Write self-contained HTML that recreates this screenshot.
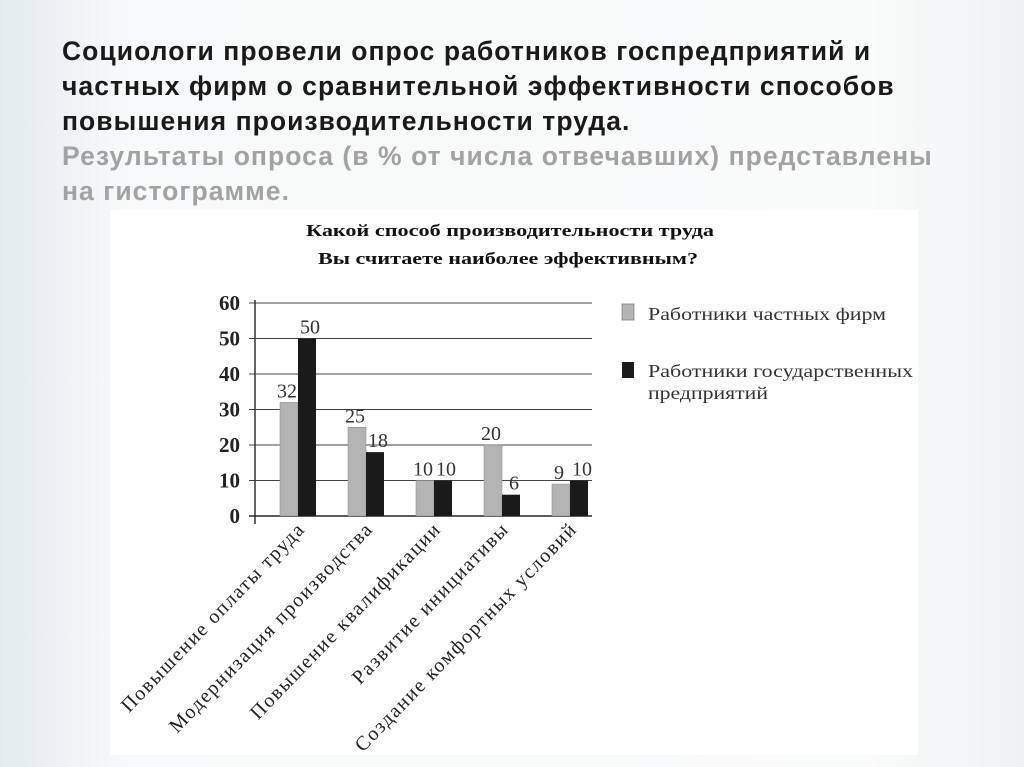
<!DOCTYPE html>
<html><head><meta charset="utf-8"><style>
body{margin:0;width:1024px;height:767px;overflow:hidden;background:linear-gradient(90deg,#e4ebee 0%,#f7f9fa 12%,#fafbfb 85%,#eef2f3 100%);font-family:"Liberation Sans",sans-serif;position:relative}
.h{position:absolute;left:62px;font-weight:bold;font-size:26.5px;letter-spacing:1.05px;line-height:35px;color:#1a1a1a;white-space:nowrap}
.g{color:#a2a2a2}
#panel{position:absolute;left:110px;top:210px;width:808px;height:545px;background:#fff}
</style></head><body>
<div class="h" style="top:34px">Социологи провели опрос работников госпредприятий и<br>частных фирм о сравнительной эффективности способов<br>повышения производительности труда.<br><span class="g">Результаты опроса (в % от числа отвечавших) представлены<br>на гистограмме.</span></div>
<div id="panel"></div>
<svg id="chart" width="1024" height="767" style="position:absolute;left:0;top:0"></svg>
<script>
const categories=["Повышение оплаты труда","Модернизация производства","Повышение квалификации","Развитие инициативы","Создание комфортных условий"];
const privateVals=[32,25,10,20,9];
const stateVals=[50,18,10,6,10];
const ticks=[0,10,20,30,40,50,60];
const ns="http://www.w3.org/2000/svg";
const svg=document.getElementById('chart');
function mk(t,a,txt){const e=document.createElementNS(ns,t);for(const k in a)e.setAttribute(k,a[k]);if(txt!==undefined)e.textContent=txt;svg.appendChild(e);return e;}
const y0=516,y60=303,xL=255,xR=592;
const y=v=>y0-(y0-y60)*v/60;
const x0=298,step=68;
const xc=i=>x0+step*i;
const bw=18;
const serif='"Liberation Serif",serif';
let e;
e=mk('text',{x:510,y:236,'text-anchor':'middle','font-family':serif,'font-weight':'bold','font-size':17,fill:'#111',textLength:408,lengthAdjust:'spacingAndGlyphs'},'Какой способ производительности труда');

e=mk('text',{x:508,y:264,'text-anchor':'middle','font-family':serif,'font-weight':'bold','font-size':17,fill:'#111',textLength:380,lengthAdjust:'spacingAndGlyphs'},'Вы считаете наиболее эффективным?');

ticks.forEach(t=>{
 e=mk('line',{x1:xL-6,x2:xR,y1:y(t),y2:y(t),stroke:'#444','stroke-width':t===0?1.8:1});
 
 e=mk('text',{x:240,y:y(t)+7,'text-anchor':'end','font-family':serif,'font-weight':'bold','font-size':21,fill:'#222'},String(t));
 
});
e=mk('line',{x1:xL,x2:xL,y1:y60-3,y2:y0+8,stroke:'#333','stroke-width':1.5});

categories.forEach((c,i)=>{
 const cx=xc(i);
 e=mk('rect',{x:cx-bw,y:y(privateVals[i]),width:bw,height:y0-y(privateVals[i]),fill:'#b4b4b4',stroke:'#888','stroke-width':0.5});
 
 e=mk('rect',{x:cx,y:y(stateVals[i]),width:bw,height:y0-y(stateVals[i]),fill:'#1a1a1a'});
 
 e=mk('text',{x:cx-bw/2-2,y:y(privateVals[i])-5,'text-anchor':'middle','font-family':serif,'font-size':20,fill:'#333'},String(privateVals[i]));
 
 e=mk('text',{x:cx+bw/2+3,y:y(stateVals[i])-5,'text-anchor':'middle','font-family':serif,'font-size':20,fill:'#333'},String(stateVals[i]));
 
 e=mk('text',{x:0,y:0,'text-anchor':'end','font-family':serif,'font-size':20,fill:'#222','letter-spacing':1.6,transform:`translate(${cx+8},${y0+14}) rotate(-46)`},c);
 
});
e=mk('rect',{x:622,y:304,width:12,height:16,fill:'#b4b4b4',stroke:'#777','stroke-width':0.7});

e=mk('text',{x:648,y:320,'font-family':serif,'font-size':18,fill:'#333',textLength:238,lengthAdjust:'spacingAndGlyphs'},'Работники частных фирм');

e=mk('rect',{x:622,y:362,width:12,height:16,fill:'#1a1a1a'});

e=mk('text',{x:648,y:377,'font-family':serif,'font-size':18,fill:'#333',textLength:265,lengthAdjust:'spacingAndGlyphs'},'Работники государственных');

e=mk('text',{x:648,y:399,'font-family':serif,'font-size':18,fill:'#333',textLength:120,lengthAdjust:'spacingAndGlyphs'},'предприятий');

</script>
</body></html>
